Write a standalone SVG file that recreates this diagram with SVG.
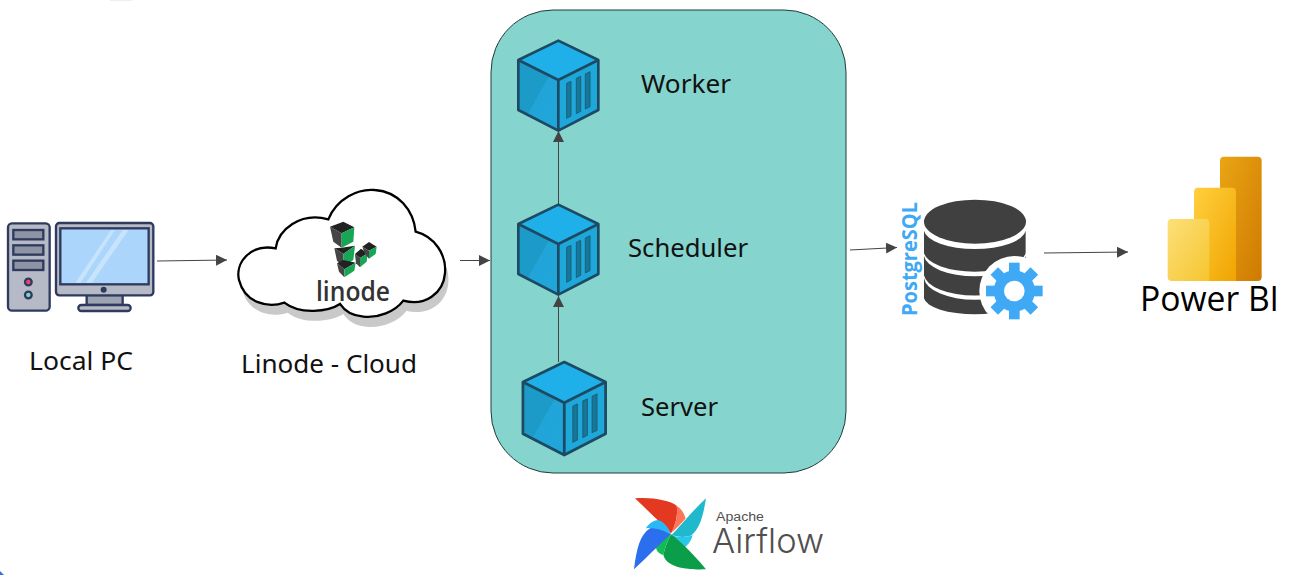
<svg xmlns="http://www.w3.org/2000/svg" width="1298" height="575" viewBox="0 0 1298 575">
<style>
.lbl{font-family:"Noto Sans","Open Sans",sans-serif;font-size:26px;fill:#111}
.conn{stroke:#444;stroke-width:1;fill:none;marker-end:url(#arr)}
.pcl{stroke:#2f3a5e;stroke-width:7}
.band{fill:#404040}
.lt{fill:#222}.ll{fill:#454545}.lg{fill:#17a556}
</style>
<defs>
<marker id="arr" markerUnits="userSpaceOnUse" markerWidth="12" markerHeight="12" refX="11" refY="5.500" orient="auto"><path d="M0,0L11,5.500L0,11Z" fill="#444"/></marker>
<linearGradient id="gb3" x1="0" y1="0" x2="1" y2="1"><stop offset="0" stop-color="#eaa514"/><stop offset="1" stop-color="#cf7a02"/></linearGradient>
<linearGradient id="gb2" x1="0" y1="0" x2="1" y2="1"><stop offset="0" stop-color="#ffd03f"/><stop offset="1" stop-color="#f0a400"/></linearGradient>
<linearGradient id="gb1" x1="0" y1="0" x2="1" y2="1"><stop offset="0" stop-color="#fde07a"/><stop offset="1" stop-color="#f6c52f"/></linearGradient>
<linearGradient id="gl" x1="0" y1="0" x2="1" y2="1"><stop offset="0" stop-color="#1c9ac8"/><stop offset=".5" stop-color="#1c9ac8"/><stop offset=".5" stop-color="#21a5d8"/><stop offset="1" stop-color="#20a6da"/></linearGradient>
<g id="cube" stroke-linejoin="round">
<path d="M175,32L295,90L175,150L55,90Z" fill="#1fb0ea"/>
<path d="M55,90L175,150V302L55,240Z" fill="url(#gl)"/>
<path d="M175,150L295,90V240L175,302Z" fill="#1ea8da"/>
<path d="M55,90L175,32L295,90V240L175,302L55,240ZM55,90L175,150L295,90M175,150V302" fill="none" stroke="#1d4a63" stroke-width="8"/>
<path d="M200,160L213,154V258L200,265ZM229,145L242,139V244L229,251ZM256,132L270,125V230L256,237Z" fill="#15779a" stroke="#1e5f7a" stroke-width="3"/>
</g>
</defs>
<rect width="1298" height="575" fill="#fff"/>
<rect x="110" y="0" width="22" height="1" fill="#eee"/>
<path d="M0,571L4,575H0Z" fill="#3b6fd4"/>

<g id="airflow-box"><rect x="491" y="10" width="355" height="463" rx="62" fill="#85d4cd" stroke="#1d3c3a" stroke-width="1"/></g>

<g id="connectors">
<path class="conn" d="M157,261L227,260"/>
<path class="conn" d="M460,260.500H490"/>
<path class="conn" d="M558.500,362V296"/>
<path class="conn" d="M558.500,205V131"/>
<path class="conn" d="M850,250L897,247.500"/>
<path class="conn" d="M1044,253L1128,252"/>
</g>

<g id="local-pc">
<g transform="translate(0,180) scale(.3333)">
<rect class="pcl" x="24" y="130" width="125" height="262" rx="12" fill="#b6bac6"/>
<rect class="pcl" x="40" y="150" width="90" height="28" fill="#8f94a4"/>
<rect class="pcl" x="40" y="196" width="90" height="28" fill="#8f94a4"/>
<rect class="pcl" x="40" y="242" width="90" height="28" fill="#8f94a4"/>
<circle class="pcl" cx="85" cy="306" r="10" fill="#e8476a"/>
<circle class="pcl" cx="85" cy="345" r="10" fill="#7fd8c4"/>
<rect class="pcl" x="260" y="345" width="108" height="30" fill="#9ea3b2"/>
<rect class="pcl" x="235" y="375" width="157" height="18" rx="9" fill="#b6bac6"/>
<rect class="pcl" x="168" y="129" width="292" height="217" rx="10" fill="#b6bac6"/>
<rect class="pcl" x="181" y="145" width="265" height="168" fill="#abd5fb"/>
<path d="M226,308L333,150H345L242,308ZM258,308L368,150H386L276,308Z" fill="#c8e3fc"/>
<circle cx="311" cy="329" r="9" fill="#2f3a5e"/>
</g>
<text class="lbl" x="29" y="370" textLength="104" lengthAdjust="spacingAndGlyphs">Local PC</text>
</g>

<g id="linode-cloud">
<g transform="translate(225,180) scale(.3333)">
<path transform="translate(10,30)" fill="#c9c9c9" d="M152,205C160,150 225,95 310,118C335,55 400,25 450,30C520,35 565,90 572,155C630,170 665,225 660,280C655,340 600,380 535,362C510,395 460,415 415,410C385,408 360,395 345,372C310,395 225,405 178,368C130,385 60,370 42,300C30,250 75,190 152,205Z"/>
<path fill="#fff" stroke="#000" stroke-width="7" d="M152,205C160,150 225,95 310,118C335,55 400,25 450,30C520,35 565,90 572,155C630,170 665,225 660,280C655,340 600,380 535,362C510,395 460,415 415,410C385,408 360,395 345,372C310,395 225,405 178,368C130,385 60,370 42,300C30,250 75,190 152,205Z"/>
<path class="lt" d="M315,140L355,125L388,142L350,160Z"/>
<path class="ll" d="M315,140L350,160V203L325,185Z"/>
<path class="lg" d="M350,160L388,142L385,185L350,203Z"/>
<path class="lt" d="M328,205L350,203L390,197L355,222Z"/>
<path class="ll" d="M328,205L355,222V260L336,242Z"/>
<path class="lg" d="M355,222L390,197L385,240L355,260Z"/>
<path class="lt" d="M336,250L355,240L392,248L358,268Z"/>
<path class="ll" d="M336,250L358,268V292L342,275Z"/>
<path class="lg" d="M358,268L392,248L388,272L358,292Z"/>
<path class="lt" d="M390,222L408,206L428,220L405,234Z"/>
<path class="ll" d="M390,222L405,234V262L393,250Z"/>
<path class="lg" d="M405,234L428,220L425,245L405,262Z"/>
<path class="lt" d="M412,200L432,186L455,200L432,212Z"/>
<path class="ll" d="M412,200L432,212V236L420,222Z"/>
<path class="lg" d="M432,212L455,200L452,222L432,236Z"/>
</g>
<text x="316" y="301" font-family="'Open Sans',sans-serif" font-weight="600" font-size="27" fill="#333" textLength="74" lengthAdjust="spacingAndGlyphs">linode</text>
<text class="lbl" x="241" y="373" textLength="176" lengthAdjust="spacingAndGlyphs">Linode - Cloud</text>
</g>

<g id="worker">
<use href="#cube" transform="translate(500,30) scale(.3333)"/>
<text class="lbl" x="641" y="93" textLength="90" lengthAdjust="spacingAndGlyphs">Worker</text>
</g>
<g id="scheduler">
<use href="#cube" transform="translate(500,194) scale(.3333)"/>
<text class="lbl" x="628" y="257" textLength="120" lengthAdjust="spacingAndGlyphs">Scheduler</text>
</g>
<g id="server">
<use href="#cube" transform="translate(504,351) scale(.3444)"/>
<text class="lbl" x="641" y="416" textLength="77" lengthAdjust="spacingAndGlyphs">Server</text>
</g>

<g id="postgresql">
<g transform="translate(845,190) scale(.3333)">
<ellipse cx="390" cy="95" rx="153" ry="66" fill="#404040"/>
<path class="band" d="M237,122A153,60 0 0 0 542,122V188A153,62 0 0 1 237,188Z"/>
<path class="band" d="M237,198A153,66 0 0 0 542,198V256A153,66 0 0 1 237,256Z"/>
<path class="band" d="M237,265A153,70 0 0 0 542,265V325A153,52 0 0 1 237,325Z"/>
<circle cx="508" cy="303" r="105" fill="#fff"/>
<g fill="#3fa9f5">
<circle cx="508" cy="303" r="62"/>
<rect x="492" y="218" width="32" height="170"/>
<rect x="423" y="287" width="170" height="32"/>
<rect x="492" y="218" width="32" height="170" transform="rotate(45 508 303)"/>
<rect x="492" y="218" width="32" height="170" transform="rotate(-45 508 303)"/>
</g>
<circle cx="508" cy="303" r="31" fill="#fff"/>
</g>
<text transform="translate(917,316) rotate(-90)" font-family="'Open Sans',sans-serif" font-weight="700" font-size="21" fill="#3fa9f5" textLength="114" lengthAdjust="spacingAndGlyphs">PostgreSQL</text>
</g>

<g id="power-bi">
<g transform="translate(1120,145) scale(.3333)">
<rect x="300" y="35" width="125" height="373" rx="12" fill="url(#gb3)"/>
<path d="M234,128H336Q348,128 348,140V408H234Q222,408 222,396V140Q222,128 234,128Z" fill="url(#gb2)"/>
<path d="M155,222H256Q268,222 268,234V408H155Q143,408 143,396V234Q143,222 155,222Z" fill="url(#gb1)"/>
</g>
<text x="1140" y="311" font-family="'Open Sans',sans-serif" font-size="35" fill="#000" textLength="139" lengthAdjust="spacingAndGlyphs">Power BI</text>
</g>

<g id="apache-airflow">
<g transform="translate(620,485) scale(.3333)">
<path d="M45,40C90,35 150,45 170,62C175,90 165,125 153,145C120,110 75,70 45,40Z" fill="#e43921"/>
<path d="M170,62C185,72 192,85 197,100C185,115 165,135 153,145C165,125 175,90 170,62Z" fill="#ff7557"/>
<path d="M258,40C250,90 240,130 215,150C195,160 170,155 155,150C175,130 215,80 258,40Z" fill="#1fb8cc"/>
<path d="M155,150C175,158 195,158 218,150C215,165 205,180 190,190C175,175 165,160 155,150Z" fill="#29c7ea"/>
<path d="M153,148C170,160 210,195 258,253C210,255 140,250 130,210C135,185 145,165 153,148Z" fill="#0a9e4a"/>
<path d="M153,148C145,165 135,185 130,210C110,205 105,190 110,175C125,160 140,155 153,148Z" fill="#12bb55"/>
<path d="M42,253C50,190 60,150 90,130C110,125 140,135 153,148C130,165 90,210 42,253Z" fill="#2b6fee"/>
<path d="M78,130C85,115 105,105 115,105C130,110 145,125 153,148C130,135 100,125 78,130Z" fill="#29b8f5"/>
</g>
<text x="716" y="521" font-family="'Liberation Sans',sans-serif" font-size="12.500" fill="#51504f" textLength="48" lengthAdjust="spacingAndGlyphs">Apache</text>
<text x="712" y="553" font-family="Inter,sans-serif" font-weight="300" font-size="34" fill="#51504f" textLength="112" lengthAdjust="spacingAndGlyphs">Airflow</text>
</g>
</svg>
